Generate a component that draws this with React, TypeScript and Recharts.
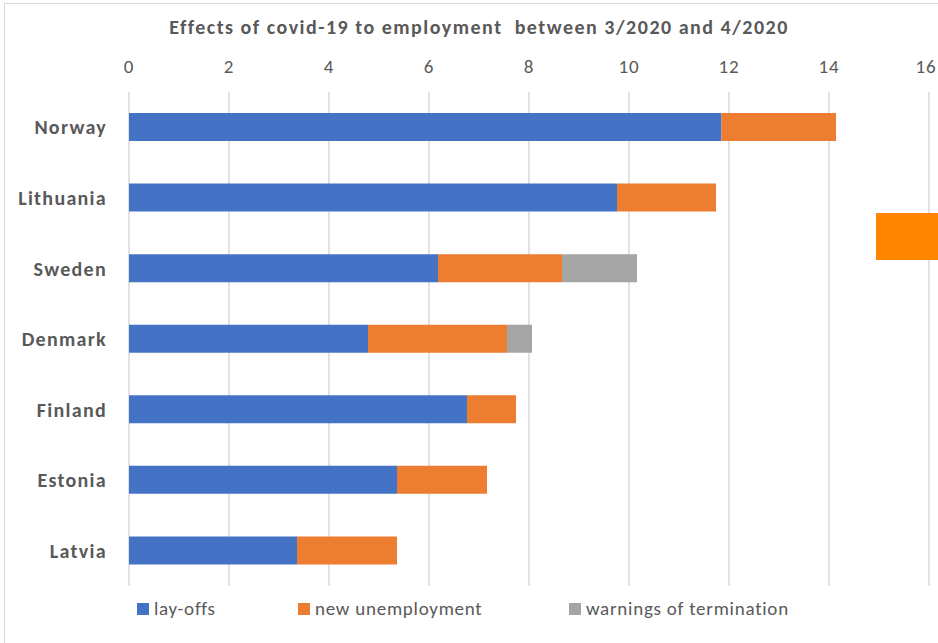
import { BarChart, Bar, XAxis, YAxis, CartesianGrid } from "recharts";

const countries = ["Norway", "Lithuania", "Sweden", "Denmark", "Finland", "Estonia", "Latvia"];
const layOffs = [11.85, 9.76, 6.18, 4.78, 6.76, 5.36, 3.36];
const newUnemployment = [2.29, 1.98, 2.48, 2.78, 0.98, 1.8, 2.0];
const warnings = [0, 0, 1.5, 0.5, 0, 0, 0];
const xTicks = [0, 2, 4, 6, 8, 10, 12, 14, 16];

const series = [
  { key: "layOffs", name: "lay-offs", color: "#4472C4" },
  { key: "newUnemployment", name: "new unemployment", color: "#ED7D31" },
  { key: "warnings", name: "warnings of termination", color: "#A5A5A5" },
];

const data = countries.map((country, i) => ({
  country,
  layOffs: layOffs[i],
  newUnemployment: newUnemployment[i],
  warnings: warnings[i],
}));

const font = "Carlito, 'Liberation Sans Narrow', 'Liberation Sans', Arial, sans-serif";
const textColor = "#595959";
const legendLeft = [137, 298, 569];

// top axis tick; the last label is nudged left so it stays inside the frame
function TopTick(props: any) {
  const { x, y, payload } = props;
  const last = payload.value === xTicks[xTicks.length - 1];
  return (
    <text
      x={last ? x - 3 : x}
      y={y}
      textAnchor="middle"
      fill={textColor}
      fontSize={19}
      fontFamily={font}
      letterSpacing={0.8}
    >
      {payload.value}
    </text>
  );
}

export default function App() {
  return (
    <div
      style={{
        position: "absolute",
        left: 0,
        top: 0,
        width: 938,
        height: 643,
        overflow: "hidden",
        background: "#fff",
        fontFamily: font,
      }}
    >
      <div
        style={{
          position: "absolute",
          left: 4,
          top: 3,
          width: 1000,
          height: 700,
          border: "1px solid #d9d9d9",
        }}
      />
      <div
        style={{
          position: "absolute",
          left: 0,
          top: 15,
          width: 958,
          textAlign: "center",
          fontSize: 20,
          letterSpacing: 1.5,
          fontWeight: "bold",
          color: textColor,
        }}
      >
        Effects of covid-19 to employment&nbsp; between 3/2020 and 4/2020
      </div>
      <div style={{ position: "absolute", left: 0, top: 0 }}>
        <BarChart
          width={950}
          height={586}
          data={data}
          layout="vertical"
          margin={{ top: 0, right: 21, bottom: 0, left: 0 }}
          barSize={28}
        >
          <CartesianGrid horizontal={false} stroke="#d9d9d9" strokeWidth={1.5} />
          <XAxis
            type="number"
            orientation="top"
            domain={[0, 16]}
            ticks={xTicks}
            height={92}
            axisLine={false}
            tickLine={false}
            tickSize={0}
            tickMargin={19}
            interval={0}
            tick={<TopTick />}
          />
          <YAxis
            type="category"
            dataKey="country"
            width={129}
            axisLine={false}
            tickLine={false}
            tickSize={0}
            tickMargin={22}
            tick={{
              fill: textColor,
              fontSize: 20,
              letterSpacing: 1.3,
              fontWeight: "bold",
              fontFamily: font,
            }}
          />
          {series.map((s) => (
            <Bar
              key={s.key}
              dataKey={s.key}
              name={s.name}
              stackId="a"
              fill={s.color}
              isAnimationActive={false}
            />
          ))}
        </BarChart>
      </div>
      {series.map((s, i) => (
        <div
          key={s.key}
          style={{
            position: "absolute",
            left: legendLeft[i],
            top: 597,
            display: "flex",
            alignItems: "center",
            fontSize: 19,
            letterSpacing: 0.75,
            color: textColor,
          }}
        >
          <span
            style={{
              display: "inline-block",
              width: 12,
              height: 12,
              background: s.color,
              marginRight: 5,
            }}
          />
          {s.name}
        </div>
      ))}
      <div
        style={{
          position: "absolute",
          left: 876,
          top: 213,
          width: 62,
          height: 47,
          background: "#FF8500",
        }}
      />
    </div>
  );
}
